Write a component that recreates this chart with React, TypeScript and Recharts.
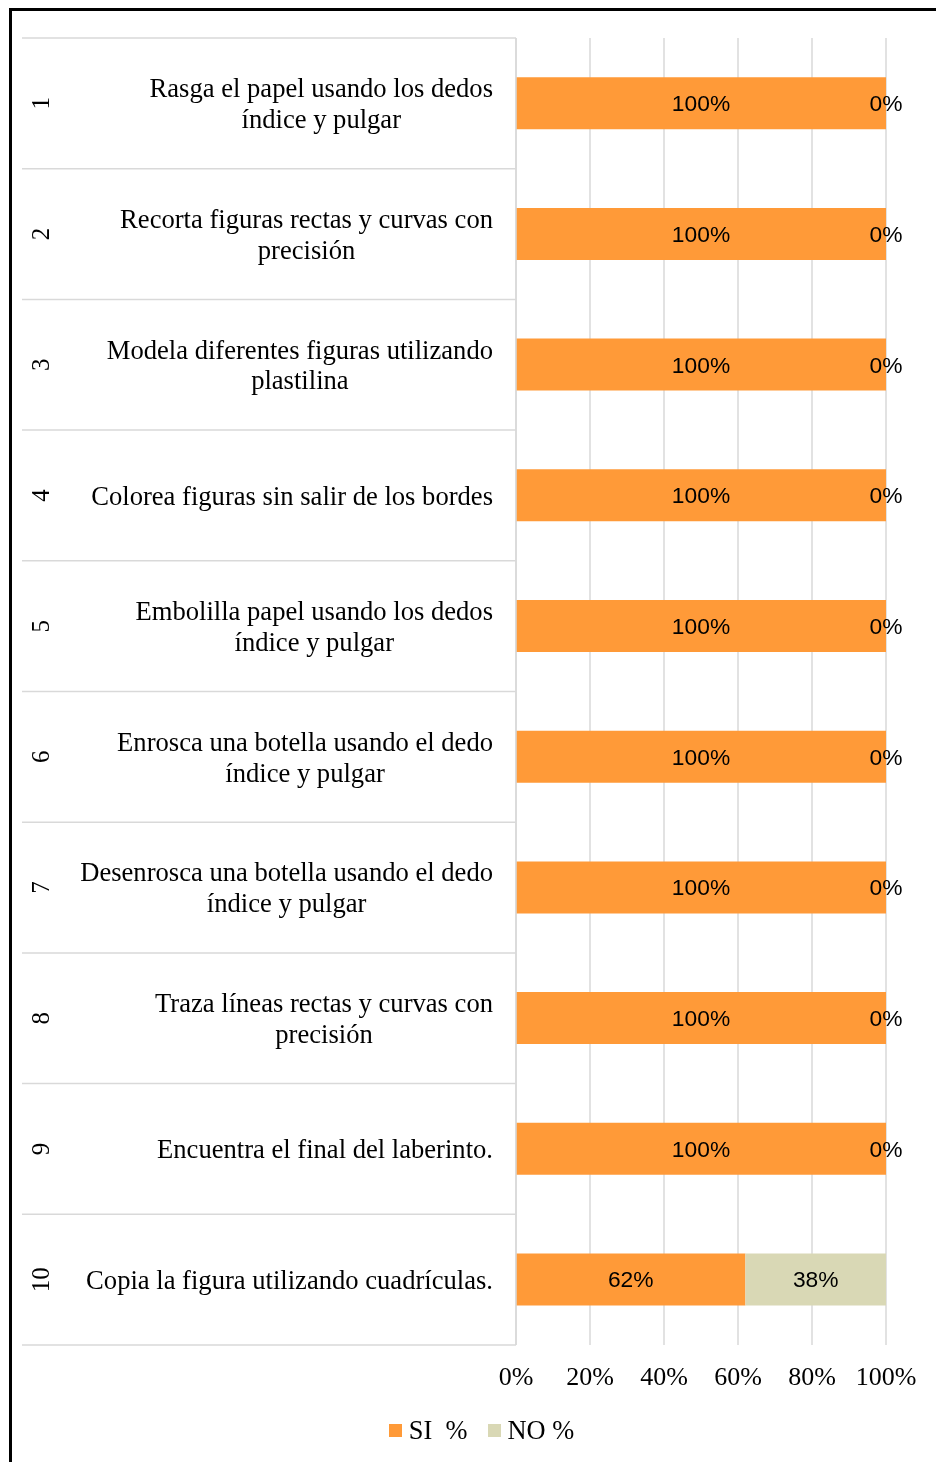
import React from 'react';
import { BarChart, Bar, XAxis, YAxis, CartesianGrid, LabelList, Legend } from 'recharts';

const ITEM_NUMBERS = ['1', '2', '3', '4', '5', '6', '7', '8', '9', '10'];
const ITEM_LABELS = [
  'Rasga el papel usando los dedos\níndice y pulgar',
  'Recorta figuras rectas y curvas con\nprecisión',
  'Modela diferentes figuras utilizando\nplastilina',
  'Colorea figuras sin salir de los bordes',
  'Embolilla papel usando los dedos\níndice y pulgar',
  'Enrosca una botella usando el dedo\níndice y pulgar',
  'Desenrosca una botella usando el dedo\níndice y pulgar',
  'Traza líneas rectas y curvas con\nprecisión',
  'Encuentra el final del laberinto.',
  'Copia la figura utilizando cuadrículas.',
];
const SI_VALUES = [100, 100, 100, 100, 100, 100, 100, 100, 100, 62];
const NO_VALUES = [0, 0, 0, 0, 0, 0, 0, 0, 0, 38];
const X_TICKS = [0, 20, 40, 60, 80, 100];
const SERIES_NAMES = { si: 'SI  %', no: 'NO %' };

const data = ITEM_NUMBERS.map((num, i) => ({ num, si: SI_VALUES[i], no: NO_VALUES[i] }));

const W = 928;
const H = 1454;
const MARGIN = { top: 30, right: 50, bottom: 12, left: 0 };
const Y_AXIS_W = 508;
const X_AXIS_H = 65;
const LEGEND_H = 40;
const PLOT_H = H - MARGIN.top - MARGIN.bottom - X_AXIS_H - LEGEND_H;

const ORANGE = '#FF9A38';
const KHAKI = '#D9D8B5';
const GRID = '#d9d9d9';
const SERIF = '"Liberation Serif", "Times New Roman", serif';
const SANS = '"Liberation Sans", Arial, sans-serif';
const LABEL_FS = 26.6;

let ctx: CanvasRenderingContext2D | null = null;
const measure = (t: string, font: string) => {
  if (!ctx) ctx = document.createElement('canvas').getContext('2d');
  if (!ctx) return t.length * 12;
  ctx.font = font;
  return ctx.measureText(t).width;
};

const CategoryTick = (props: any) => {
  const { y, index, payload } = props;
  const band = PLOT_H / ITEM_NUMBERS.length;
  const lines = ITEM_LABELS[index].split('\n');
  const lh = 30.8;
  const font = `${LABEL_FS}px "Liberation Serif"`;
  const blockW = Math.max(...lines.map((l) => measure(l, font)));
  const cx = 485 - blockW / 2;
  return (
    <g>
      <line x1={14} x2={Y_AXIS_W} y1={y - band / 2} y2={y - band / 2} stroke={GRID} strokeWidth={1.5} />
      {index === ITEM_NUMBERS.length - 1 && (
        <line x1={14} x2={Y_AXIS_W} y1={y + band / 2} y2={y + band / 2} stroke={GRID} strokeWidth={1.5} />
      )}
      <text
        transform={`translate(32, ${y}) rotate(-90)`}
        textAnchor="middle"
        dy="0.35em"
        fontFamily={SERIF}
        fontSize={25}
        fill="#000"
      >
        {payload.value}
      </text>
      <text textAnchor="middle" fontFamily={SERIF} fontSize={LABEL_FS} fill="#000">
        {lines.map((l, i) => (
          <tspan key={i} x={cx} y={y + (i - (lines.length - 1) / 2) * lh} dy="0.35em">
            {l}
          </tspan>
        ))}
      </text>
    </g>
  );
};

const LegendContent = () => (
  <div
    style={{
      display: 'flex',
      justifyContent: 'center',
      alignItems: 'center',
      width: W,
      height: LEGEND_H,
      paddingLeft: 19,
      boxSizing: 'border-box',
      fontFamily: SERIF,
      fontSize: 26.4,
      color: '#000',
    }}
  >
    <span style={{ display: 'inline-block', width: 13, height: 13, background: ORANGE, marginRight: 7 }} />
    <span style={{ whiteSpace: 'pre', marginRight: 21 }}>{SERIES_NAMES.si}</span>
    <span style={{ display: 'inline-block', width: 13, height: 13, background: KHAKI, marginRight: 6 }} />
    <span style={{ whiteSpace: 'pre' }}>{SERIES_NAMES.no}</span>
  </div>
);

const labelText = (x: number, y: number, value: any) => (
  <text x={x} y={y} dy="0.35em" textAnchor="middle" fontFamily={SANS} fontSize={22.8} fill="#000">
    {`${value}%`}
  </text>
);

// centered label for non-zero segments
const PctLabel = (props: any) => {
  const { x, y, width, height, value } = props;
  if (value === undefined || value === null || Number(value) === 0) return null;
  return labelText(Number(x) + Number(width) / 2, Number(y) + Number(height) / 2, value);
};

// zero-valued NO segment: Recharts skips zero-width segments, so place its label
// where that segment would sit, i.e. at the end of the SI segment
const ZeroNoLabel = (props: any) => {
  const { x, y, width, height, value } = props;
  if (value === undefined || value === null || Number(value) !== 0) return null;
  return labelText(Number(x) + Number(width), Number(y) + Number(height) / 2, value);
};

export default function App() {
  return (
    <>
      <div style={{ position: 'fixed', left: 9, top: 8, width: 2.5, height: 2000, background: '#000' }} />
      <div style={{ position: 'fixed', left: 9, top: 8, width: 2000, height: 2.5, background: '#000' }} />
      <div style={{ position: 'relative', width: W, height: H - 8, overflow: 'hidden' }}>
        <BarChart width={W} height={H} data={data} layout="vertical" margin={MARGIN} barCategoryGap="30%">
          <CartesianGrid horizontal={false} vertical={true} stroke={GRID} strokeWidth={1.5} />
          <XAxis
            type="number"
            domain={[0, 100]}
            ticks={X_TICKS}
            tickFormatter={(v: number) => `${v}%`}
            axisLine={false}
            tickLine={false}
            tickSize={0}
            tickMargin={22}
            height={X_AXIS_H}
            interval={0}
            tick={{ fontFamily: SERIF, fontSize: 26, fill: '#000' }}
          />
          <YAxis
            type="category"
            dataKey="num"
            width={Y_AXIS_W}
            axisLine={{ stroke: GRID, strokeWidth: 1.5 }}
            tickLine={false}
            interval={0}
            tick={<CategoryTick />}
          />
          <Legend
            verticalAlign="bottom"
            height={LEGEND_H}
            wrapperStyle={{ left: 0, width: W }}
            content={<LegendContent />}
          />
          <Bar dataKey="si" stackId="a" fill={ORANGE} isAnimationActive={false} name={SERIES_NAMES.si}>
            <LabelList dataKey="si" position="center" content={<PctLabel />} />
            <LabelList dataKey="no" position="center" content={<ZeroNoLabel />} />
          </Bar>
          <Bar dataKey="no" stackId="a" fill={KHAKI} isAnimationActive={false} name={SERIES_NAMES.no}>
            <LabelList dataKey="no" position="center" content={<PctLabel />} />
          </Bar>
        </BarChart>
      </div>
    </>
  );
}
